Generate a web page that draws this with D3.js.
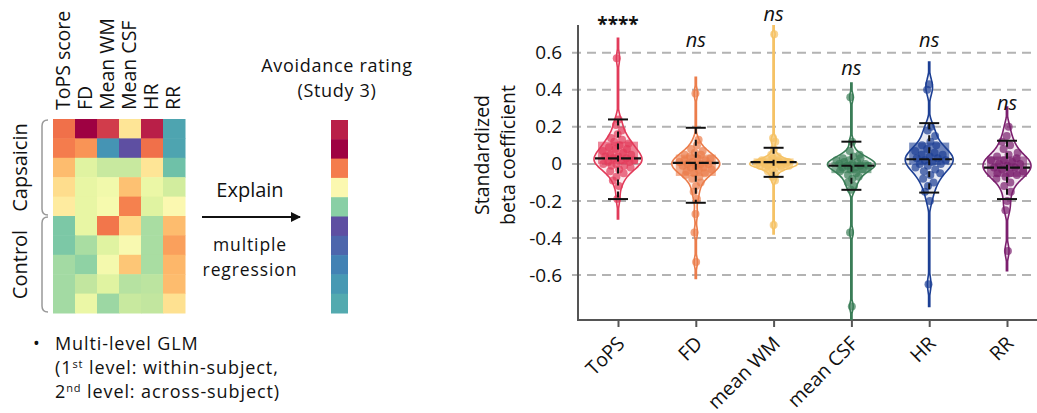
<!DOCTYPE html>
<html>
<head>
<meta charset="utf-8">
<script src="https://cdn.jsdelivr.net/npm/d3@7"></script>
<style>
  body { margin:0; background:#fff; }
  svg { font-family:"Open Sans", "Noto Sans", sans-serif; }
</style>
</head>
<body>
<svg id="fig"></svg>
<script>
//////////////////////////////////////////////////////////////
// data
var heatVars = ["ToPS score","FD","Mean WM","Mean CSF","HR","RR"];
var groupNames = ["Capsaicin","Control"];
var groupSizes = [5,5];
// spectral position (0 = dark red, 1 = purple) of every cell
var heatRows = [
    [0.20,0.00,0.10,0.42,0.05,0.85],
    [0.22,0.26,0.88,1.00,0.20,0.85],
    [0.33,0.60,0.65,0.65,0.42,0.79],
    [0.40,0.58,0.55,0.34,0.57,0.63],
    [0.44,0.58,0.53,0.23,0.60,0.50],
    [0.77,0.58,0.21,0.39,0.70,0.33],
    [0.77,0.70,0.60,0.52,0.70,0.28],
    [0.71,0.74,0.54,0.35,0.70,0.32],
    [0.71,0.66,0.60,0.68,0.67,0.33],
    [0.71,0.57,0.72,0.65,0.66,0.41]
];
var avoidance = [0.05,0.00,0.22,0.50,0.75,1.00,0.96,0.91,0.87,0.84];

var predictors = ["ToPS","FD","mean WM","mean CSF","HR","RR"];
var predColors = ["#e23b5a","#eb7d4b","#f5c265","#3a7d57","#1c3f94","#7b1f6e"];
var sigLabels = ["****","ns","ns","ns","ns","ns"];
var sigY = [0.72,0.63,0.77,0.48,0.63,0.29];

var betaToPS = [0.57,0.24,0.21,0.18,0.16,0.14,0.13,0.12,0.11,0.10,0.09,0.08,0.08,0.07,0.06,0.05,0.05,0.04,0.04,0.03,0.03,0.02,0.02,0.01,0.01,0.00,0.00,-0.01,-0.01,-0.02,-0.03,-0.04,-0.05,-0.07,-0.09,-0.12,-0.19];
var betaFD = [0.38,0.13,0.10,0.08,0.07,0.06,0.05,0.05,0.04,0.03,0.03,0.02,0.02,0.01,0.01,0.00,0.00,0.00,-0.01,-0.01,-0.02,-0.02,-0.03,-0.03,-0.04,-0.05,-0.05,-0.06,-0.07,-0.08,-0.10,-0.12,-0.15,-0.19,-0.27,-0.37,-0.53];
var betaWM = [0.70,0.14,0.12,0.08,0.05,0.04,0.03,0.02,0.02,0.02,0.01,0.01,0.01,0.01,0.00,0.00,0.00,0.00,0.00,0.00,-0.01,-0.01,-0.01,-0.01,-0.02,-0.02,-0.02,-0.03,-0.04,-0.05,-0.07,-0.09,-0.33];
var betaCSF = [0.36,0.12,0.07,0.05,0.04,0.03,0.03,0.02,0.02,0.01,0.01,0.00,0.00,0.00,-0.01,-0.01,-0.01,-0.02,-0.02,-0.03,-0.03,-0.04,-0.05,-0.06,-0.07,-0.08,-0.10,-0.12,-0.14,-0.37,-0.77];
var betaHR = [0.43,0.40,0.20,0.18,0.15,0.12,0.10,0.10,0.08,0.07,0.06,0.05,0.05,0.04,0.03,0.03,0.02,0.02,0.01,0.00,0.00,-0.01,-0.02,-0.03,-0.04,-0.05,-0.06,-0.08,-0.10,-0.12,-0.15,-0.20,-0.65];
var betaRR = [0.20,0.15,0.12,0.10,0.08,0.06,0.05,0.04,0.03,0.02,0.02,0.01,0.00,0.00,-0.01,-0.02,-0.02,-0.03,-0.04,-0.05,-0.05,-0.06,-0.07,-0.08,-0.10,-0.12,-0.15,-0.20,-0.25,-0.47];
var betas = [betaToPS,betaFD,betaWM,betaCSF,betaHR,betaRR];

// box and error bar summaries
var medians = [0.03,0.005,0.01,-0.01,0.025,-0.02];
var q1s = [0.00,-0.065,-0.005,-0.05,-0.005,-0.07];
var q3s = [0.12,0.05,0.03,0.01,0.115,0.04];
var capLo = [-0.19,-0.21,-0.07,-0.14,-0.155,-0.19];
var capHi = [0.24,0.195,0.087,0.12,0.22,0.125];

var yTicks = [0.6,0.4,0.2,0,-0.2,-0.4,-0.6];
//////////////////////////////////////////////////////////////

var svg = d3.select("#fig").attr("width",1037).attr("height",413);
var spectral = d3.interpolateSpectral; // 0 -> dark red, 1 -> purple
var ink = "#111";

//////////////////////////////////////////////////////////////
// left panel: heatmap
var hx = d3.scaleBand().domain(d3.range(heatVars.length)).range([53,185]);
var hy = d3.scaleBand().domain(d3.range(heatRows.length)).range([119,313]);

var left = svg.append("g");
heatRows.forEach(function(row,r){
    left.selectAll(null)
        .data(row)
        .enter()
        .append("rect")
        .attr("x",function(v,c){ return hx(c); })
        .attr("y",hy(r))
        .attr("width",hx.bandwidth()+0.5)
        .attr("height",hy.bandwidth()+0.5)
        .attr("fill",function(v){ return spectral(v); });
});

left.selectAll(".colLabel")
    .data(heatVars)
    .enter()
    .append("text")
    .attr("transform",function(d,i){ return "translate("+(hx(i)+hx.bandwidth()/2-1)+",110) rotate(-90)"; })
    .attr("dy","0.35em")
    .attr("font-size",19.5)
    .attr("fill",ink)
    .text(function(d){ return d; });

// group brackets
var start = 0;
groupNames.forEach(function(name,g){
    var y0 = hy(start)+1, y1 = hy(start+groupSizes[g]-1)+hy.bandwidth()-1;
    left.append("path")
        .attr("d","M48,"+y0+" Q42,"+y0+" 42,"+(y0+6)+" L42,"+(y1-6)+" Q42,"+y1+" 48,"+y1)
        .attr("fill","none")
        .attr("stroke","#999")
        .attr("stroke-width",1.5);
    left.append("text")
        .attr("transform","translate(20,"+((y0+y1)/2)+") rotate(-90)")
        .attr("text-anchor","middle")
        .attr("dy","0.35em")
        .attr("font-size",20)
        .attr("fill",ink)
        .text(name);
    start += groupSizes[g];
});

// avoidance rating column
var ay = d3.scaleBand().domain(d3.range(avoidance.length)).range([120,313]);
left.selectAll(".avoid")
    .data(avoidance)
    .enter()
    .append("rect")
    .attr("x",331)
    .attr("y",function(v,i){ return ay(i); })
    .attr("width",17)
    .attr("height",ay.bandwidth()+0.5)
    .attr("fill",function(v){ return spectral(v); });

var addText = function(x,y,txt,anchor,size,spacing){
    return left.append("text").attr("x",x).attr("y",y)
        .attr("text-anchor",anchor || "middle")
        .attr("font-size",size || 20)
        .attr("letter-spacing",spacing || 0)
        .attr("fill",ink).text(txt);
};
addText(337,72,"Avoidance rating","middle",18,0.7);
addText(337,97,"(Study 3)","middle",18,0.7);
addText(250,197,"Explain");
addText(250,251,"multiple","middle",17.5,0.9);
addText(250,276,"regression","middle",17.5,0.9);

svg.append("defs").append("marker")
    .attr("id","arrow")
    .attr("viewBox","0 0 10 10")
    .attr("refX",9).attr("refY",5)
    .attr("markerWidth",5).attr("markerHeight",5)
    .attr("orient","auto")
    .append("path").attr("d","M0,0 L10,5 L0,10 z").attr("fill",ink);
left.append("line")
    .attr("x1",202).attr("x2",300).attr("y1",217).attr("y2",217)
    .attr("stroke",ink).attr("stroke-width",2)
    .attr("marker-end","url(#arrow)");

// bullet text
addText(33,350,"\u2022","start",18);
addText(55,350,"Multi-level GLM","start",18,0.9);
var l2 = addText(55,374,"","start",18,0.9);
l2.append("tspan").text("(1");
l2.append("tspan").attr("font-size",11).attr("dy",-6).text("st");
l2.append("tspan").attr("dy",6).text(" level: within-subject,");
var l3 = addText(55,398,"","start",18,0.9);
l3.append("tspan").text("2");
l3.append("tspan").attr("font-size",11).attr("dy",-6).text("nd");
l3.append("tspan").attr("dy",6).text(" level: across-subject)");

//////////////////////////////////////////////////////////////
// right panel: violins
var plot = {left:578, right:1037, top:25, bottom:320};
var xScale = d3.scalePoint().domain(predictors).range([618,1007]);
var yScale = d3.scaleLinear().domain([-0.843,0.75]).range([plot.bottom,plot.top]);

var right = svg.append("g");

// grid
right.selectAll(".grid")
    .data(yTicks)
    .enter()
    .append("line")
    .attr("x1",572).attr("x2",plot.right)
    .attr("y1",function(d){ return yScale(d); })
    .attr("y2",function(d){ return yScale(d); })
    .attr("stroke","#b3b3b3")
    .attr("stroke-width",2)
    .attr("stroke-dasharray","9,6");

var yAxis = d3.axisLeft(yScale).tickValues(yTicks).tickSize(0).tickPadding(16)
    .tickFormat(function(d){ return d===0 ? "0" : d3.format(".1f")(d).replace("\u2212","-"); });
var ya = right.append("g").attr("transform","translate("+plot.left+",0)").call(yAxis);
ya.select(".domain").remove();
ya.selectAll("text").attr("font-size",19).attr("fill",ink).attr("font-family","Open Sans");

var xAxis = d3.axisBottom(xScale).tickSize(7).tickSizeOuter(0).tickFormat("");
var xa = right.append("g").attr("transform","translate(0,"+plot.bottom+")").call(xAxis);
xa.select(".domain").remove();
xa.selectAll("line").attr("stroke","#555").attr("stroke-width",2);

right.append("path")
    .attr("d","M"+plot.left+","+plot.top+" L"+plot.left+","+plot.bottom+" L"+plot.right+","+plot.bottom)
    .attr("fill","none")
    .attr("stroke","#555")
    .attr("stroke-width",2);

right.selectAll(".xlab")
    .data(predictors)
    .enter()
    .append("text")
    .attr("transform",function(d){ return "translate("+(xScale(d)+3)+",340) rotate(-45)"; })
    .attr("text-anchor","end")
    .attr("dy","0.35em")
    .attr("font-size",19.5)
    .attr("fill",ink)
    .text(function(d){ return d; });

// y label
var yl = right.append("text")
    .attr("transform","translate(496,155) rotate(-90)")
    .attr("text-anchor","middle")
    .attr("font-size",19.5)
    .attr("fill",ink);
yl.append("tspan").attr("x",0).attr("dy","-0.35em").text("Standardized");
yl.append("tspan").attr("x",0).attr("dy","1.3em").text("beta coefficient");

// kde helpers (silverman style bandwidth)
var gauss = function(u){ return Math.exp(-0.5*u*u)/Math.sqrt(2*Math.PI); };
var halfMax = 24;

svg.select("defs").append("clipPath").attr("id","plotClip")
    .append("rect").attr("x",plot.left).attr("y",plot.top)
    .attr("width",plot.right-plot.left).attr("height",plot.bottom-plot.top);

predictors.forEach(function(p,i){
    var vals = betas[i];
    var cx = xScale(p);
    var col = predColors[i];
    var sorted = vals.slice().sort(d3.ascending);
    var iqr = d3.quantileSorted(sorted,0.75)-d3.quantileSorted(sorted,0.25);
    var spread = Math.min(d3.deviation(vals),iqr/1.34);
    var bw = Math.max(0.016,0.9*spread*Math.pow(vals.length,-0.2));
    var lo = d3.min(vals)-3*bw, hi = d3.max(vals)+3*bw;
    var grid = d3.range(0,241).map(function(k){ return lo+(hi-lo)*k/240; });
    var dens = grid.map(function(g){
        return [g, d3.mean(vals,function(v){ return gauss((g-v)/bw); })/bw];
    });
    var dmax = d3.max(dens,function(d){ return d[1]; });
    var wScale = d3.scaleLinear().domain([0,dmax]).range([0,halfMax]);
    var widthAt = function(v){
        var k = Math.max(0,Math.min(240,Math.round((v-lo)/(hi-lo)*240)));
        return wScale(dens[k][1]);
    };

    var g = right.append("g").attr("clip-path","url(#plotClip)");

    var area = d3.area()
        .x0(function(d){ return cx-Math.max(0.6,wScale(d[1])); })
        .x1(function(d){ return cx+Math.max(0.6,wScale(d[1])); })
        .y(function(d){ return yScale(d[0]); })
        .curve(d3.curveBasis);

    g.append("path")
        .datum(dens)
        .attr("d",area)
        .attr("fill",col)
        .attr("fill-opacity",0.1)
        .attr("stroke",col)
        .attr("stroke-width",1.6);

    // box
    g.append("rect")
        .attr("x",cx-20)
        .attr("width",40)
        .attr("y",yScale(q3s[i]))
        .attr("height",yScale(q1s[i])-yScale(q3s[i]))
        .attr("fill",col)
        .attr("fill-opacity",0.6);

    // points
    g.selectAll(".pt")
        .data(vals)
        .enter()
        .append("circle")
        .attr("cx",function(v,k){
            var j = ((k*0.618034+i*0.37)%1)*2-1;
            return cx + j*Math.min(17,widthAt(v)*0.8);
        })
        .attr("cy",function(v){ return yScale(v); })
        .attr("r",4)
        .attr("fill",col)
        .attr("fill-opacity",0.7);

    // error bar and median
    g.append("line")
        .attr("x1",cx).attr("x2",cx)
        .attr("y1",yScale(capHi[i])).attr("y2",yScale(capLo[i]))
        .attr("stroke",ink).attr("stroke-width",2)
        .attr("stroke-dasharray","6,6");
    [capHi[i],capLo[i]].forEach(function(v){
        g.append("line")
            .attr("x1",cx-10).attr("x2",cx+10)
            .attr("y1",yScale(v)).attr("y2",yScale(v))
            .attr("stroke",ink).attr("stroke-width",2);
    });
    g.append("line")
        .attr("x1",cx-23).attr("x2",cx+23)
        .attr("y1",yScale(medians[i])).attr("y2",yScale(medians[i]))
        .attr("stroke",ink).attr("stroke-width",2.2)
        .attr("stroke-dasharray","10,3");

    right.append("text")
        .attr("x",cx)
        .attr("y",yScale(sigY[i]))
        .attr("text-anchor","middle")
        .attr("font-size",sigLabels[i]==="ns" ? 20 : 19)
        .attr("font-style",sigLabels[i]==="ns" ? "italic" : "normal")
        .attr("font-weight",sigLabels[i]==="ns" ? "normal" : "bold")
        .attr("fill",ink)
        .text(sigLabels[i]);
});
</script>
</body>
</html>
